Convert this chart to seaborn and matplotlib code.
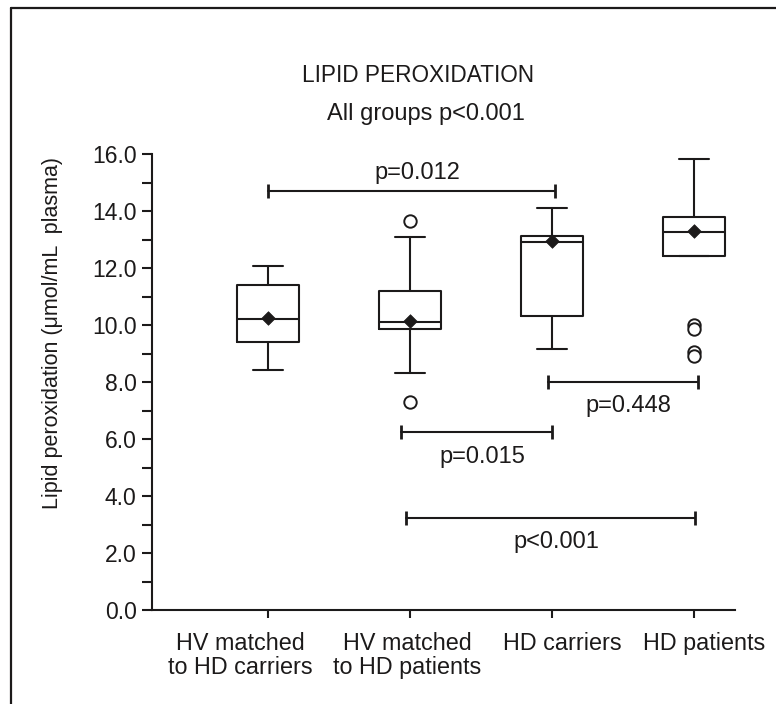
import matplotlib
matplotlib.use("Agg")
import matplotlib.pyplot as plt
from matplotlib.lines import Line2D
from matplotlib.ticker import MultipleLocator
from matplotlib.transforms import ScaledTranslation
import seaborn as sns

# ================= DATA =================
groups = ["HV matched\nto HD carriers", "HV matched\nto HD patients",
          "HD carriers", "HD patients"]
whisker_low = [8.41, 8.33, 9.15, 12.42]
q1 = [9.39, 9.87, 10.32, 12.42]
median = [10.21, 10.11, 12.92, 13.28]
q3 = [11.40, 11.19, 13.12, 13.78]
whisker_high = [12.08, 13.10, 14.12, 15.82]
means = [10.25, 10.14, 12.95, 13.31]

outlier_group = [1, 1, 3, 3, 3, 3]
outlier_value = [13.65, 7.29, 10.00, 9.85, 9.06, 8.90]

# pairwise comparisons (group index from / to, height of bracket, text)
pair_from = [0, 1, 2, 1]
pair_to = [2, 2, 3, 3]
pair_level = [14.7, 6.23, 8.01, 3.23]
pair_label = ["p=0.012", "p=0.015", "p=0.448", "p<0.001"]

# ================= STYLE =================
sns.set_style("ticks")
plt.rcParams['font.family'] = ['Liberation Sans', 'DejaVu Sans']
ink = "#1c1a1a"

fig = plt.figure(figsize=(7.76, 7.04), dpi=100)
W, H = 776, 704
ax = fig.add_axes([152 / W, 1 - 610 / H, (735 - 152) / W, (610 - 154) / H])

# ================= BOXES =================
stats = []
for i in range(len(groups)):
    stats.append(dict(med=median[i], q1=q1[i], q3=q3[i],
                      whislo=whisker_low[i], whishi=whisker_high[i], fliers=[]))

line = dict(color=ink, lw=1.5)
ax.bxp(stats, positions=range(len(groups)), widths=0.44, capwidths=0.21,
       showfliers=False, boxprops=line, whiskerprops=line, capprops=line,
       medianprops=line)

# means
sns.scatterplot(x=list(range(len(groups))), y=means, marker="D", s=48,
                color=ink, edgecolor=ink, linewidth=0.5, zorder=5, ax=ax)
# outliers
sns.scatterplot(x=outlier_group, y=outlier_value, marker="o", s=80,
                facecolor="white", edgecolor=ink, linewidth=1.4, zorder=5, ax=ax)

# ================= P-VALUE BRACKETS =================
shift_from = [0.0, -0.06, -0.03, -0.03]
shift_to = [0.02, 0.0, 0.03, 0.01]
for i in range(len(pair_label)):
    x0 = pair_from[i] + shift_from[i]
    x1 = pair_to[i] + shift_to[i]
    y = pair_level[i]
    ax.plot([x0, x1], [y, y], color=ink, lw=1.5, zorder=4)
    ax.plot([x0, x1], [y, y], ls="none", marker="|", ms=9.5, mew=2,
            color=ink, zorder=4)
    mid = (x0 + x1) / 2 + 0.04
    if i == 0:
        ax.text(mid, y + 0.42, pair_label[i], ha="center", va="baseline",
                fontsize=17, color=ink)
    else:
        ax.text(mid, y - 1.07, pair_label[i], ha="center", va="baseline",
                fontsize=17, color=ink)

# ================= AXES =================
ax.set_xlim(-0.817, 3.289)
ax.set_ylim(0, 16)
ax.set_xticks(range(len(groups)))
ax.set_xticklabels([])
# category names, not exactly centred under their ticks in the original
label_dx = [-28, -3, 10, 10]
down = ScaledTranslation(0, -22 / 100, fig.dpi_scale_trans)
for i, name in enumerate(groups):
    ax.text(i, 0, name, transform=ax.get_xaxis_transform() + down
            + ScaledTranslation(label_dx[i] / 100, 0, fig.dpi_scale_trans),
            ha="center", va="top", fontsize=16.8, color=ink, linespacing=1.05)

ax.yaxis.set_major_locator(MultipleLocator(2))
ax.yaxis.set_minor_locator(MultipleLocator(1))
ax.set_yticklabels([f"{v:.1f}" for v in ax.get_yticks()], fontsize=16.5, color=ink)
ax.tick_params(axis="y", which="both", length=7, width=1.5, color=ink, pad=4)
ax.tick_params(axis="x", length=6, width=1.5, color=ink)
for side in ["top", "right"]:
    ax.spines[side].set_visible(False)
for side in ["left", "bottom"]:
    ax.spines[side].set_color(ink)
    ax.spines[side].set_linewidth(1.5)

ax.set_ylabel("Lipid peroxidation (\u03bcmol/mL  plasma)", fontsize=15.5, color=ink)
ax.yaxis.set_label_coords(-0.153, 0.607)

# titles
fig.text(418 / W, 1 - 82 / H, "LIPID PEROXIDATION", ha="center", va="baseline",
         fontsize=16.3, color=ink)
fig.text(426 / W, 1 - 120 / H, "All groups p<0.001", ha="center", va="baseline",
         fontsize=17, color=ink)

# frame around the panel (left and top edges only visible)
fig.add_artist(Line2D([11 / W, 11 / W], [0, 1 - 8 / H], transform=fig.transFigure,
                      color=ink, lw=1.6))
fig.add_artist(Line2D([11 / W, 1], [1 - 8 / H, 1 - 8 / H], transform=fig.transFigure,
                      color=ink, lw=1.6))

fig.savefig("out.png", dpi=100)
plt.close()
